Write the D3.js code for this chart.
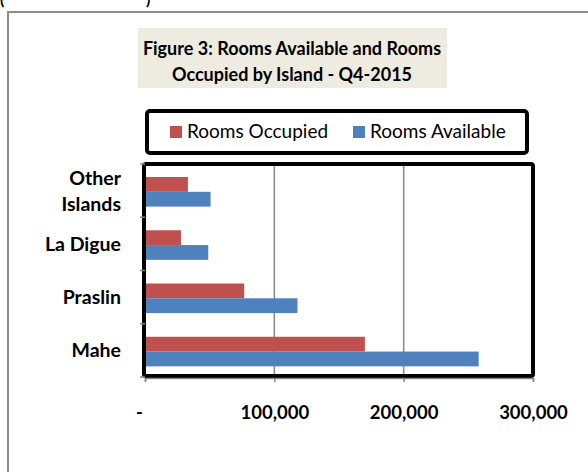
<!DOCTYPE html>
<html>
<head>
<meta charset="utf-8">
<script src="https://cdn.jsdelivr.net/npm/d3@7"></script>
<style>
  body { margin: 0; background: #fff; }
  svg { display: block; font-family: Lato, "Open Sans", sans-serif; }
</style>
</head>
<body>
<div class="container"></div>
<script>
// data
const islands = ["Other Islands", "La Digue", "Praslin", "Mahe"];
const roomsOccupied = [33200, 27800, 76700, 170000];
const roomsAvailable = [50700, 48900, 117900, 258000];
const xTicks = [0, 100000, 200000, 300000];
const seriesNames = ["Rooms Occupied", "Rooms Available"];
const seriesColors = ["#c0504d", "#4f81bd"];

const width = 588, height = 472;

const svg = d3.select(".container")
  .append("svg")
  .attr("width", width)
  .attr("height", height);

// outer frame (runs off the page)
svg.append("rect")
  .attr("x", 8).attr("y", 12)
  .attr("width", 620).attr("height", 500)
  .attr("fill", "none")
  .attr("stroke", "#8c8c8c")
  .attr("stroke-width", 2);

// cut off caption at the very top
svg.append("text").attr("x", 0).attr("y", 5)
  .attr("font-size", 16).attr("font-weight", "bold").text("(");
svg.append("text").attr("x", 146).attr("y", 5)
  .attr("font-size", 16).attr("font-weight", "bold").text(")");

// title box
svg.append("rect")
  .attr("x", 138).attr("y", 28)
  .attr("width", 309).attr("height", 60)
  .attr("fill", "#eeece1");

const title = svg.append("text")
  .attr("text-anchor", "middle")
  .attr("font-size", 18)
  .attr("font-weight", "bold")
  .attr("fill", "#000");
title.append("tspan").attr("x", 292).attr("y", 55).text("Figure 3: Rooms Available and Rooms");
title.append("tspan").attr("x", 292).attr("y", 81).text("Occupied by Island - Q4-2015");

// legend
svg.append("rect")
  .attr("x", 147).attr("y", 111)
  .attr("width", 380).attr("height", 42)
  .attr("rx", 3)
  .attr("fill", "#fff")
  .attr("stroke", "#000")
  .attr("stroke-width", 4);

const legendX = [170, 353];
seriesNames.forEach((name, i) => {
  svg.append("rect")
    .attr("x", legendX[i]).attr("y", 126)
    .attr("width", 12).attr("height", 12)
    .attr("fill", seriesColors[i]);
  svg.append("text")
    .attr("x", legendX[i] + 17).attr("y", 138)
    .attr("font-size", 19)
    .text(name);
});

// plot area
const plot = { left: 145, right: 533, top: 164, bottom: 377 };

const x = d3.scaleLinear()
  .domain([0, 300000])
  .range([plot.left, plot.right]);

const y = d3.scaleBand()
  .domain(islands.slice().reverse())
  .range([plot.bottom, plot.top]);

const inner = d3.scaleBand()
  .domain(seriesNames)
  .range([0, y.bandwidth()])
  .paddingOuter(0.8)
  .paddingInner(0)
  .align(0.55);

// gridlines
svg.append("g")
  .selectAll("line")
  .data(xTicks.slice(1, -1))
  .enter()
  .append("line")
  .attr("x1", d => x(d)).attr("x2", d => x(d))
  .attr("y1", plot.top).attr("y2", plot.bottom)
  .attr("stroke", "#868686")
  .attr("stroke-width", 1.5);

// bars
const groups = svg.append("g")
  .selectAll("g")
  .data(islands)
  .enter()
  .append("g")
  .attr("transform", d => "translate(0," + y(d) + ")");

groups.append("rect")
  .attr("x", x(0))
  .attr("y", inner("Rooms Occupied"))
  .attr("width", (d, i) => x(roomsOccupied[i]) - x(0))
  .attr("height", inner.bandwidth())
  .attr("fill", seriesColors[0]);

groups.append("rect")
  .attr("x", x(0))
  .attr("y", inner("Rooms Available"))
  .attr("width", (d, i) => x(roomsAvailable[i]) - x(0))
  .attr("height", inner.bandwidth())
  .attr("fill", seriesColors[1]);

// plot frame
svg.append("rect")
  .attr("x", plot.left - 1).attr("y", plot.top)
  .attr("width", plot.right - plot.left + 1)
  .attr("height", plot.bottom - plot.top - 1)
  .attr("rx", 2)
  .attr("fill", "none")
  .attr("stroke", "#000")
  .attr("stroke-width", 4);

// x axis
const xAxis = svg.append("g")
  .attr("transform", "translate(0," + (plot.bottom + 1) + ")")
  .call(d3.axisBottom(x).tickValues(xTicks).tickSize(4).tickFormat(d => d === 0 ? "-" : d3.format(",")(d)));
xAxis.select(".domain").attr("stroke", "#868686").attr("stroke-width", 1.5);
xAxis.selectAll(".tick line").attr("stroke", "#868686").attr("stroke-width", 1.5);
xAxis.selectAll(".tick text")
  .attr("y", 28)
  .attr("font-family", "Lato, sans-serif")
  .attr("font-size", 18.5)
  .attr("font-weight", "bold")
  .attr("fill", "#000")
  .attr("dx", d => d === 0 ? -6 : 0);

// y axis ticks at band edges
const yEdges = islands.map(d => y(d)).concat([plot.bottom]);
svg.append("g")
  .selectAll("line")
  .data(yEdges)
  .enter()
  .append("line")
  .attr("x1", plot.left - 5).attr("x2", plot.left)
  .attr("y1", d => d).attr("y2", d => d)
  .attr("stroke", "#868686")
  .attr("stroke-width", 1.5);

// category labels
const labels = svg.append("g")
  .selectAll("text")
  .data(islands)
  .enter()
  .append("text")
  .attr("text-anchor", "end")
  .attr("font-size", 19.5)
  .attr("font-weight", "bold")
  .attr("fill", "#000");

labels.each(function (d) {
  const t = d3.select(this);
  const cy = y(d) + y.bandwidth() / 2;
  const words = d === "Other Islands" ? ["Other", "Islands"] : [d];
  words.forEach((w, j) => {
    t.append("tspan")
      .attr("x", 121)
      .attr("y", cy + 7 + (j - (words.length - 1) / 2) * 26)
      .text(w);
  });
});
</script>
</body>
</html>
